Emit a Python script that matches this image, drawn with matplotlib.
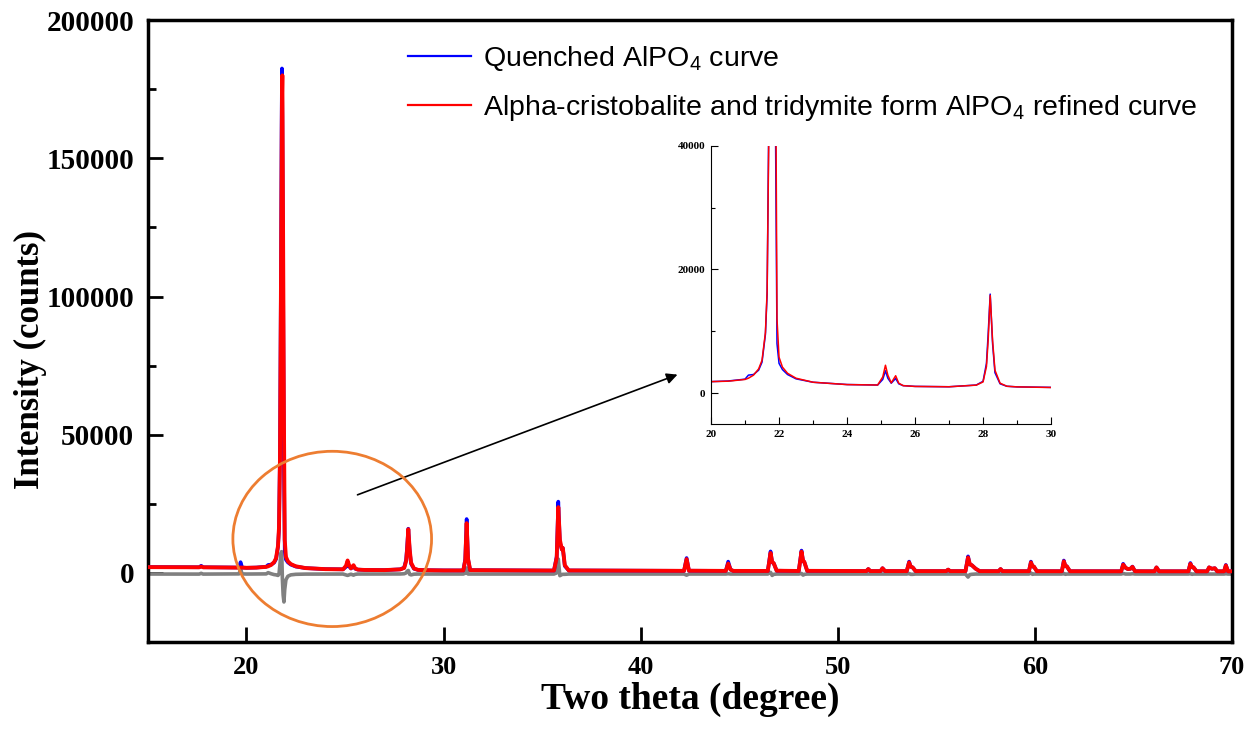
import numpy as np
import matplotlib.pyplot as plt
from matplotlib.patches import Ellipse

plt.rcParams['mathtext.fontset'] = 'custom'
plt.rcParams['mathtext.rm'] = 'Liberation Sans'
plt.rcParams['mathtext.it'] = 'Liberation Sans'

# XRD pattern vertices (two theta in degree, counts)
two_theta = [15.0, 16.0, 17.0, 17.6, 17.7, 17.8, 18.5, 19.5, 19.62, 19.7, 19.78, 20.0, 20.5, 21.0, 21.1, 21.25,
             21.4, 21.5, 21.6, 21.65, 21.7, 21.75, 21.78, 21.8, 21.82, 21.86, 21.9, 21.94, 22.0, 22.1, 22.25, 22.5,
             23.0, 24.0, 24.9, 25.05, 25.13, 25.2, 25.3, 25.43, 25.52, 25.65, 26.0, 27.0, 27.8, 28.0, 28.1, 28.15,
             28.21, 28.28, 28.35, 28.5, 28.7, 29.0, 30.0,
             31.0, 31.1, 31.17, 31.24, 31.35, 35.6, 35.74, 35.82, 35.9, 36.0, 36.05, 36.15, 36.35,
             42.2, 42.33, 42.45, 44.32, 44.44, 44.56, 44.7, 46.45, 46.59, 46.67, 46.75, 46.9,
             48.02, 48.16, 48.24, 48.3, 48.45, 51.45, 51.55, 51.65, 52.17, 52.27, 52.4,
             53.5, 53.62, 53.7, 53.8, 53.95, 55.5, 55.6, 55.7, 56.48, 56.61, 56.7, 56.8, 57.0, 57.2,
             58.16, 58.26, 58.36, 59.7, 59.8, 59.88, 59.95, 60.1, 61.37, 61.47, 61.55, 61.62, 61.78,
             64.38, 64.48, 64.6, 64.72, 64.85, 64.95, 65.08, 66.07, 66.17, 66.3,
             67.79, 67.89, 67.97, 68.05, 68.2, 68.74, 68.84, 68.98, 69.13, 69.25, 69.6, 69.69, 69.8, 70.0]

quenched = [2150, 2120, 2080, 2050, 2600, 2050, 2000, 1920, 1950, 3900, 1950, 1850, 1950, 2250, 2900, 3000,
            3700, 5000, 9500, 16000, 45000, 110000, 160000, 182500, 165000, 105000, 40000, 8000, 4800, 3800, 3000, 2300,
            1750, 1380, 1300, 2200, 3600, 2400, 1600, 2350, 1500, 1200, 1080, 1020, 1300, 1900, 4800, 9500,
            16000, 8000, 3300, 1500, 1100, 1000, 920,
            900, 5000, 19500, 5000, 1000, 860, 6000, 25800, 11000, 8500, 9000, 2500, 900,
            760, 5400, 800, 740, 4100, 1200, 730, 720, 7800, 3800, 3500, 800,
            700, 8100, 4200, 4000, 750, 670, 1400, 670, 670, 1700, 670,
            660, 4100, 2200, 2000, 660, 650, 1200, 650, 650, 6000, 3000, 2800, 1500, 650,
            640, 1400, 640, 630, 4100, 2300, 2300, 630, 620, 4500, 2400, 2400, 620,
            600, 3300, 1800, 1400, 1500, 2300, 620, 600, 2000, 600,
            590, 3600, 2000, 2000, 590, 590, 2000, 1500, 1700, 590, 580, 2900, 580, 580]

refined = [2100, 2080, 2060, 2040, 2300, 2040, 1990, 1920, 1920, 1950, 1930, 1850, 1920, 2200, 2400, 2900,
           3900, 5300, 9800, 16500, 42000, 105000, 150000, 172000, 180000, 115000, 55000, 12000, 5800, 4200, 3200, 2400,
           1750, 1370, 1300, 2600, 4500, 2900, 1650, 2800, 1600, 1200, 1070, 1020, 1280, 1800, 4300, 8500,
           15800, 8500, 3700, 1600, 1100, 1000, 900,
           890, 4500, 18000, 5200, 1000, 850, 5500, 23800, 12000, 8500, 9000, 2800, 900,
           750, 5000, 800, 730, 3400, 1200, 730, 710, 7200, 4000, 3500, 800,
           700, 7700, 4400, 4000, 750, 670, 1400, 670, 670, 1700, 670,
           660, 3800, 2300, 2000, 660, 650, 1200, 650, 650, 5600, 3200, 2800, 1500, 650,
           640, 1400, 640, 630, 3800, 2400, 2300, 630, 620, 4200, 2500, 2400, 620,
           600, 3000, 1900, 1400, 1500, 2200, 620, 600, 2000, 600,
           590, 3300, 2100, 2000, 590, 590, 2000, 1500, 1700, 590, 580, 2700, 580, 580]

difference = [-400, -420, -400, -420, -150, -420, -400, -400, -350, 1300, -350, -400, -380, -350, 100, -300,
              -600, -700, -900, -400, 3500, 7000, 7700, 4000, -2000, -8000, -10500, -6000, -2500, -1200, -700, -500,
              -420, -400, -400, -700, -900, -700, -450, -800, -500, -400, -400, -400, -380, -300, 0, 600,
              900, -500, -700, -450, -400, -400, -400,
              -400, -100, 1800, -400, -400, -400, 0, 5000, -1000, -600, -500, -500, -400,
              -400, -800, -400, -400, -300, -400, -400, -400, 200, -900, -500, -400,
              -400, -200, -800, -500, -400, -400, -400, -400, -400, -400, -400,
              -400, -200, -500, -500, -400, -400, -400, -400, -400, -1500, -600, -500, -400, -400,
              -400, -400, -400, -400, 0, -500, -400, -400, -400, -200, -500, -400, -400,
              -400, -200, -400, -400, -400, -300, -400, -400, -400, -400,
              -400, -200, -500, -400, -400, -400, -400, -400, -400, -400, -400, -300, -400, -400]

labels = ['Quenched AlPO$_4$ curve',
          'Alpha-cristobalite and tridymite form AlPO$_4$ refined curve']

serif = 'Liberation Serif'
sans = 'Liberation Sans'

fig = plt.figure(figsize=(12.58, 7.30), dpi=100)
ax = fig.add_axes([0.1176, 0.1205, 0.8617, 0.852])

ax.plot(two_theta, difference, color='#808080', lw=2.6, zorder=2)
ax.plot(two_theta, quenched, color='#0000FF', lw=2.6, zorder=3, label=labels[0])
ax.plot(two_theta, refined, color='#FF0000', lw=2.8, zorder=4, label=labels[1])

ax.set_xlim(15, 70)
ax.set_ylim(-25000, 200000)
ax.set_xticks([20, 30, 40, 50, 60, 70])
ax.set_yticks([0, 50000, 100000, 150000, 200000])
ax.set_yticks(np.arange(-25000, 200001, 25000), minor=True)
ax.tick_params(axis='both', which='major', direction='in', length=11, width=2, pad=10)
ax.tick_params(axis='y', which='minor', direction='in', length=6, width=2)
for s in ax.spines.values():
    s.set_linewidth(2.5)
for t in ax.get_xticklabels():
    t.set_fontfamily(serif)
    t.set_fontweight('bold')
    t.set_fontsize(19)
for t in ax.get_yticklabels():
    t.set_fontfamily(serif)
    t.set_fontweight('bold')
    t.set_fontsize(21)

ax.set_xlabel('Two theta (degree)', fontfamily=serif, fontweight='bold', fontsize=27, labelpad=2)
ax.set_ylabel('Intensity (counts)', fontfamily=serif, fontweight='bold', fontsize=25)
ax.yaxis.set_label_coords(-0.093, 0.455)

leg = ax.legend(loc='upper left', bbox_to_anchor=(0.24, 0.961), frameon=False,
                prop={'family': sans, 'size': 20.5}, handlelength=2.2, handletextpad=0.42,
                labelspacing=0.70, borderpad=0, borderaxespad=0)
for line in leg.get_lines():
    line.set_linewidth(1.6)

# orange circle round the zoomed region, and the arrow to the inset
ax.add_patch(Ellipse((24.35, 12300), 10.08, 63400, fill=False, edgecolor='#ED7D31', lw=2, zorder=5))
ax.annotate('', xy=(42.0, 72100), xytext=(25.5, 27900),
            arrowprops=dict(arrowstyle='-|>', color='black', lw=1.2, mutation_scale=16))

# inset
ins = fig.add_axes([0.5652, 0.4192, 0.2703, 0.3812])
ins.plot(two_theta, quenched, color='#0000FF', lw=1.1)
ins.plot(two_theta, refined, color='#FF0000', lw=1.1)
ins.set_xlim(20, 30)
ins.set_ylim(-5000, 40000)
ins.set_xticks(np.arange(20, 31, 2))
ins.set_xticks(np.arange(20, 31, 1), minor=True)
ins.set_yticks([0, 20000, 40000])
ins.set_yticks([10000, 30000], minor=True)
ins.spines['top'].set_visible(False)
ins.spines['right'].set_visible(False)
ins.tick_params(which='major', direction='in', length=5, width=0.8, pad=4)
ins.tick_params(which='minor', direction='in', length=3, width=0.8)
for t in ins.get_xticklabels() + ins.get_yticklabels():
    t.set_fontfamily(serif)
    t.set_fontweight('bold')
    t.set_fontsize(8)

fig.savefig('out.png', dpi=100)
